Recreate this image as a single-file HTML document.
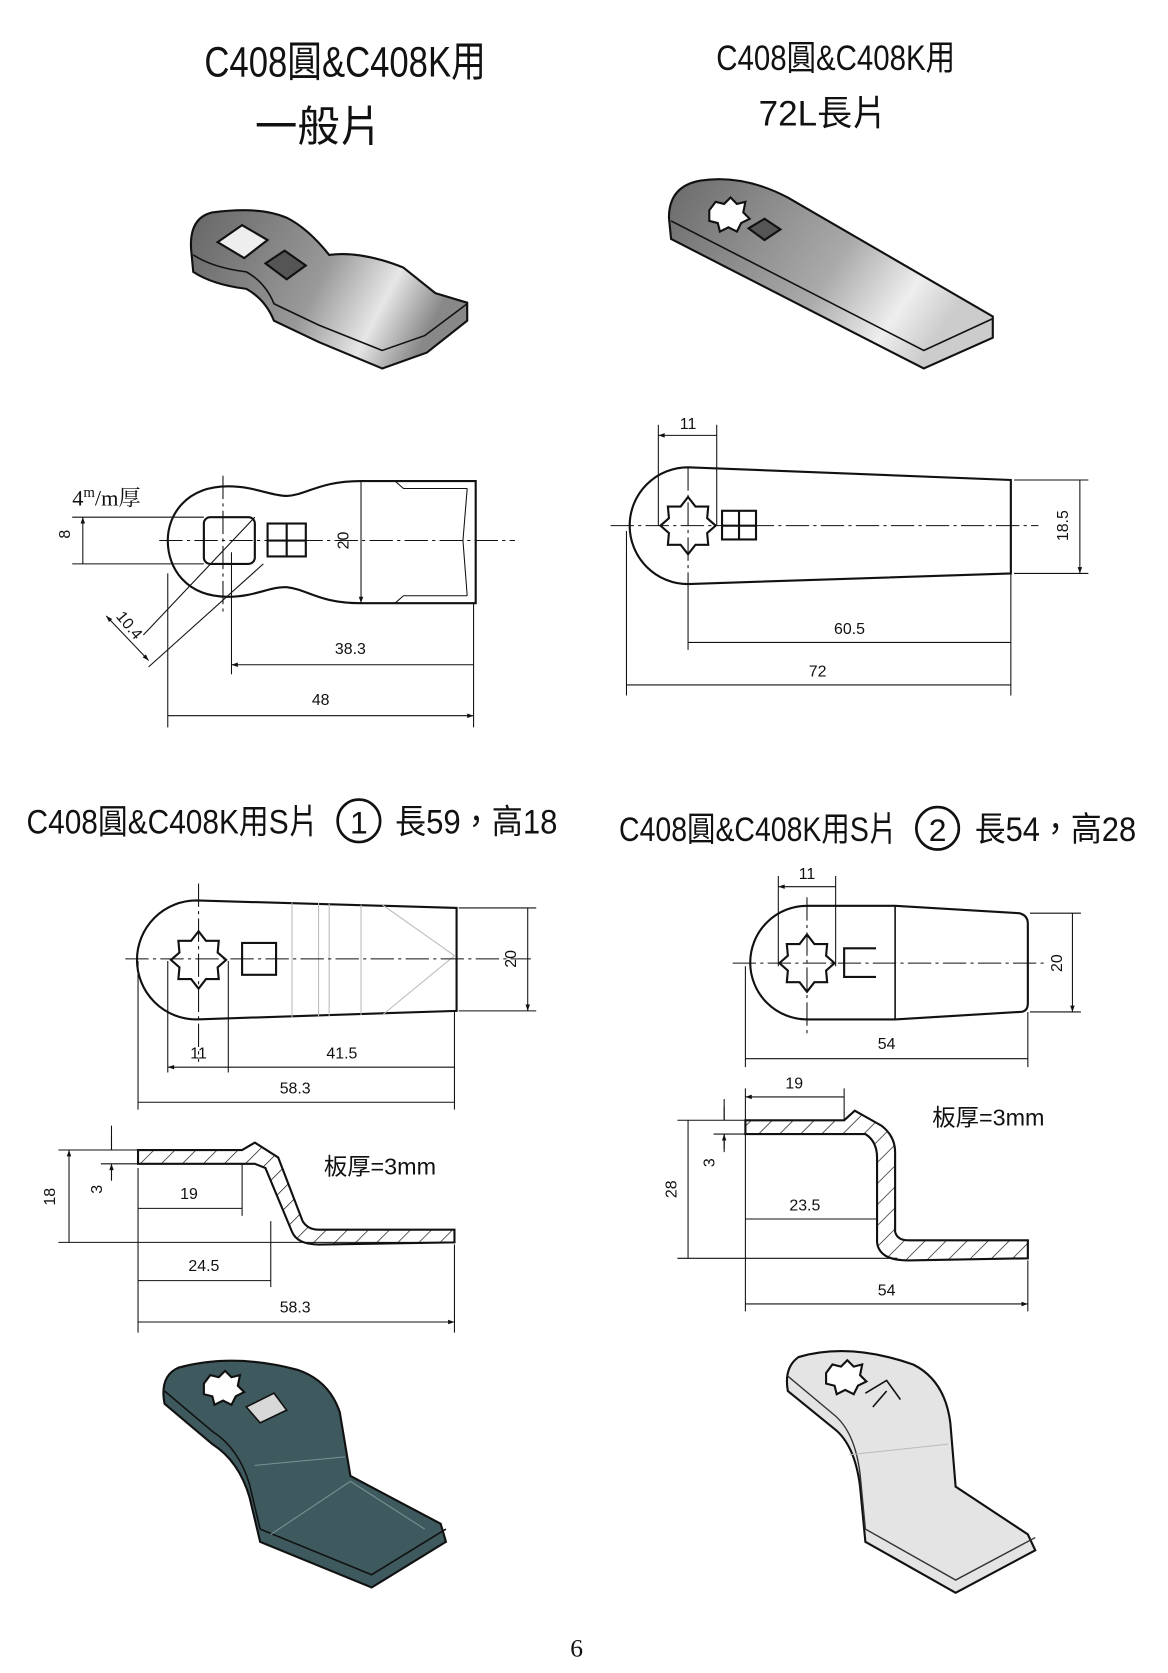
<!DOCTYPE html>
<html><head><meta charset="utf-8"><style>
html,body{margin:0;padding:0;background:#fff}
svg{display:block}
text{font-family:"Liberation Sans Narrow","Liberation Sans","Noto Sans CJK TC",sans-serif;fill:#111}
.d{font-size:15px}
</style></head><body>
<svg width="1168" height="1673" viewBox="0 0 1100 1575.5" xmlns="http://www.w3.org/2000/svg">
<defs>
<marker id="a" viewBox="0 0 10 10" refX="10" refY="5" markerWidth="10" markerHeight="6" orient="auto-start-reverse" markerUnits="userSpaceOnUse"><path d="M0,1.5 L10,5 L0,8.5 Z" fill="#111"/></marker>
<pattern id="h" width="14" height="14" patternUnits="userSpaceOnUse" patternTransform="rotate(45)"><line x1="0" y1="0" x2="0" y2="14" stroke="#111" stroke-width="1.3"/></pattern>
<linearGradient id="g1" x1="0" y1="0" x2="1" y2="0.3"><stop offset="0" stop-color="#666"/><stop offset="0.55" stop-color="#999"/><stop offset="0.8" stop-color="#e6e6e6"/><stop offset="1" stop-color="#888"/></linearGradient>
<linearGradient id="g2" x1="0" y1="0" x2="1" y2="0.4"><stop offset="0" stop-color="#6a6a6a"/><stop offset="0.6" stop-color="#aaa"/><stop offset="0.85" stop-color="#eee"/><stop offset="1" stop-color="#ccc"/></linearGradient>
</defs>
<text x="325" y="72" font-size="40" text-anchor="middle" textLength="265" lengthAdjust="spacingAndGlyphs">C408圓&amp;C408K用</text>
<text x="300" y="133" font-size="40" text-anchor="middle">一般片</text>
<text x="787" y="66" font-size="33" text-anchor="middle" textLength="225" lengthAdjust="spacingAndGlyphs">C408圓&amp;C408K用</text>
<text x="775" y="118" font-size="33" text-anchor="middle">72L長片</text>

<!-- 3D general -->
<path d="M200,200 Q178,205 180,235 L182,256 Q200,268 232,272 Q250,282 258,302 L300,322 L360,347 L402,332 L440,302 L440,285 L410,276 L380,252 Q340,236 310,240 Q290,215 270,205 Q245,194 200,200 Z" fill="url(#g1)" stroke="#111" stroke-width="2"/>
<path d="M182,240 Q200,252 232,256 Q250,266 258,286 L300,306 L360,330 L400,316 L440,286" fill="none" stroke="#111" stroke-width="1.5"/>
<path d="M205,228 L228,212 L252,226 L230,243 Z" fill="#eee" stroke="#111" stroke-width="2"/>
<path d="M250,248 L268,236 L288,250 L270,263 Z" fill="#555" stroke="#111" stroke-width="2"/>
<!-- 3D 72L -->
<path d="M660,170 Q630,175 630,205 L632,225 L870,347 L935,318 L935,298 L742,186 Q700,164 660,170 Z" fill="url(#g2)" stroke="#111" stroke-width="2"/>
<path d="M632,208 L870,330 L935,300" fill="none" stroke="#111" stroke-width="1.5"/>
<path d="M668,198 l6,-8 8,2 6,-6 6,6 8,-2 -2,10 6,6 -8,4 -4,8 -8,-4 -8,4 -2,-8 -8,-2z" fill="#fff" stroke="#111" stroke-width="2"/>
<path d="M705,215 L720,206 L735,216 L720,226 Z" fill="#555" stroke="#111" stroke-width="2"/>

<!-- general drawing -->
<g fill="none" stroke="#111" stroke-width="1">
<path d="M215,458 C175,458 158,485 158,509 C158,535 175,562 215,562 C240,562 255,552 270,553 C290,555 300,568 340,568 L448,568 L448,453 L340,453 C300,453 290,466 270,467 C255,467 240,458 215,458 Z" stroke-width="2"/>
<path d="M372,453 L380,460 L440,460 M372,568 L380,561 L440,561 M440,460 L436,509 L440,561" />
<rect x="192" y="487" width="48" height="44" rx="6" stroke-width="2"/>
<rect x="252" y="493" width="36" height="31" stroke-width="2"/>
<path d="M270,493 V524 M252,509 H288" stroke-width="2"/>
<path d="M150,509 H485" stroke-dasharray="22,4,3,4"/>
<path d="M210,448 V580" stroke-dasharray="22,4,3,4"/>
<path d="M218,520 V635 M158,540 V685 M446,568 V685"/>
<path d="M218,626 H446 M158,674 H446" marker-start="url(#a)" marker-end="url(#a)"/>
<path d="M68,487 H192 M68,531 H192"/>
<path d="M78,487 V531 M340,453 V568" marker-start="url(#a)" marker-end="url(#a)"/>
<path d="M240,487 L135,598 M248,531 L140,628"/>
<path d="M100,580 L140,622" marker-start="url(#a)" marker-end="url(#a)"/>
</g>
<text x="68" y="476" font-size="21" style="font-family:'Liberation Serif','Noto Serif CJK SC',serif">4<tspan font-size="14" dy="-8">m</tspan><tspan dy="8">/m厚</tspan></text>
<text class="d" transform="translate(66,503) rotate(-90)" text-anchor="middle">8</text>
<text class="d" transform="translate(328,509) rotate(-90)" text-anchor="middle">20</text>
<text class="d" transform="translate(118,592) rotate(50)" text-anchor="middle">10.4</text>
<text class="d" x="330" y="616" text-anchor="middle">38.3</text>
<text class="d" x="302" y="664" text-anchor="middle">48</text>

<!-- 72L drawing -->
<g fill="none" stroke="#111" stroke-width="1">
<path d="M648,440 L952,452 L952,540 L648,550 A55,55 0 0 1 648,440 Z" stroke-width="2"/>
<path d="M648,468 l7,9 12,0 -1,11 8,7 -8,7 1,11 -12,0 -7,9 -7,-9 -12,0 1,-11 -8,-7 8,-7 -1,-11 12,0 z" stroke-width="2"/>
<rect x="680" y="481" width="32" height="27" stroke-width="2"/>
<path d="M696,481 V508 M680,495 H712" stroke-width="2"/>
<path d="M575,495 H978" stroke-dasharray="22,4,3,4"/>
<path d="M648,440 V550" stroke-dasharray="22,4,3,4"/>
<path d="M620,400 V495 M675,400 V495 M648,550 V612 M590,500 V655 M952,540 V655 M955,452 H1025 M955,540 H1025"/>
<path d="M620,410 H675 M648,605 H952 M590,645 H952 M1017,452 V540" marker-start="url(#a)" marker-end="url(#a)"/>
</g>
<text class="d" x="648" y="404" text-anchor="middle" font-size="13">11</text>
<text class="d" transform="translate(1006,495) rotate(-90)" text-anchor="middle">18.5</text>
<text class="d" x="800" y="597" text-anchor="middle">60.5</text>
<text class="d" x="770" y="637" text-anchor="middle">72</text>

<!-- section titles -->
<text x="25" y="785" font-size="32" textLength="275" lengthAdjust="spacingAndGlyphs">C408圓&amp;C408K用S片</text>
<circle cx="338" cy="773" r="20" fill="none" stroke="#111" stroke-width="2.5"/>
<text x="338" y="785" font-size="30" text-anchor="middle">1</text>
<text x="372" y="785" font-size="32" textLength="153" lengthAdjust="spacingAndGlyphs">長59，高18</text>
<text x="583" y="792" font-size="32" textLength="262" lengthAdjust="spacingAndGlyphs">C408圓&amp;C408K用S片</text>
<circle cx="883" cy="780" r="20" fill="none" stroke="#111" stroke-width="2.5"/>
<text x="883" y="792" font-size="30" text-anchor="middle">2</text>
<text x="918" y="792" font-size="32" textLength="152" lengthAdjust="spacingAndGlyphs">長54，高28</text>

<!-- S1 top -->
<g fill="none" stroke="#111" stroke-width="1">
<path d="M185,848 L430,855 L430,952 L185,960 A56,56 0 0 1 185,848 Z" stroke-width="2"/>
<path d="M187,877 l7,9 12,0 -1,11 8,7 -8,7 1,11 -12,0 -7,9 -7,-9 -12,0 1,-11 -8,-7 8,-7 -1,-11 12,0 z" stroke-width="2"/>
<rect x="228" y="888" width="32" height="30" stroke-width="2"/>
<path d="M275,850 V958 M300,850 V958 M310,851 V957 M340,852 V956 M360,852 L428,900 L360,956" stroke="#bbb"/>
<path d="M118,903 H500" stroke-dasharray="22,4,3,4"/>
<path d="M187,832 V1000" stroke-dasharray="22,4,3,4"/>
<path d="M215,905 V1010 M158,905 V1010 M130,905 V1045 M428,952 V1045 M432,855 H505 M432,952 H505"/>
<path d="M158,1005 H215 M215,1005 H428 M130,1038 H428 M497,855 V952" marker-start="url(#a)" marker-end="url(#a)"/>
</g>
<text class="d" x="187" y="997" text-anchor="middle" font-size="14">11</text>
<text class="d" x="322" y="997" text-anchor="middle" font-size="14">41.5</text>
<text class="d" x="278" y="1030" text-anchor="middle" font-size="14">58.3</text>
<text class="d" transform="translate(486,903) rotate(-90)" text-anchor="middle" font-size="13">20</text>

<!-- S1 side -->
<path d="M130,1083 L228,1083 L240,1076 L262,1090 L285,1150 Q290,1158 300,1158 L428,1158 L428,1170 L300,1172 Q280,1172 275,1160 L250,1100 L240,1096 L130,1096 Z" fill="url(#h)" stroke="#111" stroke-width="2"/>
<g fill="none" stroke="#111" stroke-width="1">
<path d="M55,1083 H130 M55,1170 H428 M95,1096 H130 M130,1100 V1255 M228,1096 V1145 M255,1150 V1212 M428,1172 V1255 M105,1060 V1083 M105,1096 V1112"/>
<path d="M65,1083 V1170 M130,1138 H228 M130,1206 H255 M130,1245 H428" marker-start="url(#a)" marker-end="url(#a)"/>
<path d="M105,1070 V1083 M105,1110 V1096" marker-end="url(#a)"/>
</g>
<text x="305" y="1106" font-size="22">板厚=3mm</text>
<text class="d" transform="translate(52,1127) rotate(-90)" text-anchor="middle" font-size="13">18</text>
<text class="d" transform="translate(96,1120) rotate(-90)" text-anchor="middle" font-size="13">3</text>
<text class="d" x="178" y="1129" text-anchor="middle" font-size="14">19</text>
<text class="d" x="192" y="1197" text-anchor="middle" font-size="14">24.5</text>
<text class="d" x="278" y="1236" text-anchor="middle" font-size="14">58.3</text>

<!-- S2 top -->
<g fill="none" stroke="#111" stroke-width="1">
<path d="M760,853 L843,853 L960,860 Q968,862 968,870 L968,945 Q968,953 960,953 L843,960 L760,960 A53.5,53.5 0 0 1 760,853 Z" stroke-width="2"/>
<path d="M843,853 V960" stroke-width="1.5"/>
<path d="M760,880 l7,9 12,0 -1,11 8,7 -8,7 1,11 -12,0 -7,9 -7,-9 -12,0 1,-11 -8,-7 8,-7 -1,-11 12,0 z" stroke-width="2"/>
<path d="M825,893 L795,893 L795,920 L825,920" stroke-width="2"/>
<path d="M690,907 H985" stroke-dasharray="22,4,3,4"/>
<path d="M760,845 V975" stroke-dasharray="22,4,3,4"/>
<path d="M733,825 V910 M787,825 V910 M702,910 V1005 M968,953 V1005 M970,860 H1018 M970,953 H1018"/>
<path d="M733,835 H787 M702,997 H968 M1010,860 V953" marker-start="url(#a)" marker-end="url(#a)"/>
</g>
<text class="d" x="760" y="828" text-anchor="middle" font-size="13">11</text>
<text class="d" x="835" y="988" text-anchor="middle" font-size="14">54</text>
<text class="d" transform="translate(1000,907) rotate(-90)" text-anchor="middle" font-size="13">20</text>

<!-- S2 side -->
<path d="M702,1055 L795,1055 L805,1046 L830,1060 Q843,1070 843,1085 L843,1160 Q845,1168 855,1168 L968,1168 L968,1185 L855,1187 Q828,1187 826,1170 L826,1090 Q826,1075 815,1068 L702,1068 Z" fill="url(#h)" stroke="#111" stroke-width="2"/>
<g fill="none" stroke="#111" stroke-width="1">
<path d="M638,1055 H702 M672,1068 H702 M638,1185 H845 M702,1025 V1235 M795,1025 V1055 M826,1140 V1160 M968,1187 V1235 M682,1035 V1055 M682,1068 V1085"/>
<path d="M702,1033 H795 M648,1055 V1185 M702,1148 H826 M702,1228 H968" marker-start="url(#a)" marker-end="url(#a)"/>
<path d="M682,1042 V1055 M682,1082 V1068" marker-end="url(#a)"/>
</g>
<text x="878" y="1060" font-size="22">板厚=3mm</text>
<text class="d" x="748" y="1025" text-anchor="middle" font-size="13">19</text>
<text class="d" transform="translate(637,1120) rotate(-90)" text-anchor="middle" font-size="13">28</text>
<text class="d" transform="translate(673,1095) rotate(-90)" text-anchor="middle" font-size="13">3</text>
<text class="d" x="758" y="1140" text-anchor="middle" font-size="14">23.5</text>
<text class="d" x="835" y="1220" text-anchor="middle" font-size="14">54</text>

<!-- 3D S1 dark -->
<path d="M168,1288 Q150,1296 155,1322 L200,1360 Q225,1376 235,1410 L245,1452 L350,1495 L420,1452 L415,1435 L330,1390 L320,1330 Q310,1300 280,1290 Q220,1274 168,1288 Z" fill="#3e5a5e" stroke="#111" stroke-width="2"/>
<path d="M155,1310 L200,1348 Q225,1364 235,1398 L245,1440 L350,1483 L420,1440" fill="none" stroke="#111" stroke-width="1.5"/>
<path d="M240,1380 L325,1372 M255,1445 L330,1395 L400,1440" fill="none" stroke="#7a9296" stroke-width="1"/>
<path d="M192,1303 l6,-8 8,2 6,-6 6,6 8,-2 -2,10 6,6 -8,4 -4,8 -8,-4 -8,4 -2,-8 -8,-2z" fill="#fff" stroke="#111" stroke-width="2"/>
<path d="M232,1325 L258,1312 L270,1328 L245,1340 Z" fill="#d8d8d8" stroke="#111" stroke-width="1.5"/>
<!-- 3D S2 light -->
<path d="M752,1278 Q738,1288 742,1310 L785,1345 Q805,1360 810,1400 L815,1452 L900,1500 L975,1460 L968,1445 L900,1400 L895,1340 Q890,1300 860,1285 Q800,1264 752,1278 Z" fill="#e4e4e4" stroke="#111" stroke-width="2"/>
<path d="M742,1296 L785,1332 Q805,1348 810,1388 L815,1440 L900,1488 L975,1448" fill="none" stroke="#333" stroke-width="1.3"/>
<path d="M800,1370 L893,1360" fill="none" stroke="#bbb"/>
<path d="M778,1293 l6,-8 8,2 6,-6 6,6 8,-2 -2,10 6,6 -8,4 -4,8 -8,-4 -8,4 -2,-8 -8,-2z" fill="#fff" stroke="#111" stroke-width="2"/>
<path d="M815,1312 L835,1300 L848,1318 M822,1325 L835,1310" fill="none" stroke="#111" stroke-width="1.5"/>

<text x="543" y="1560" font-size="24" text-anchor="middle" style="font-family:'Liberation Serif',serif">6</text>
</svg>
</body></html>
